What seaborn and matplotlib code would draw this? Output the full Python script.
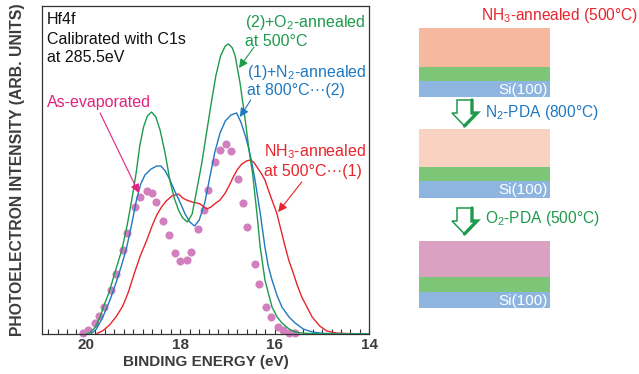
import matplotlib
matplotlib.use("Agg")
import matplotlib.pyplot as plt
from matplotlib.patches import Rectangle, Polygon
import numpy as np
import pandas as pd
import seaborn as sns

# Hf4f spectra: binding energy (eV) and photoelectron intensity (arb. units)
energy_o2 = [20.00, 19.92, 19.80, 19.70, 19.63, 19.50, 19.39, 19.24, 19.13, 19.03, 18.94,
             18.86, 18.78, 18.70, 18.61, 18.52, 18.43, 18.32, 18.22, 18.13, 18.04, 17.95,
             17.85, 17.75, 17.65, 17.55, 17.45, 17.35, 17.25, 17.15, 17.05, 16.98, 16.90,
             16.84, 16.74, 16.63, 16.55, 16.47, 16.38, 16.31, 16.21, 16.06, 15.95, 15.85,
             15.70, 15.57, 15.40, 15.20, 14.90, 14.50, 14.00]
intensity_o2 = [0, 1, 7, 17, 27, 43, 61, 84, 108, 134, 160,
                188, 207, 218, 222, 217, 204, 180, 153, 136, 124, 116,
                112, 120, 145, 170, 200, 230, 258, 278, 288, 290, 286,
                278, 252, 215, 185, 160, 121, 87, 54, 27, 17, 11,
                5, 2, 0.8, 0.3, 0.1, 0, 0]

energy_n2 = [19.88, 19.78, 19.65, 19.49, 19.35, 19.25, 19.14, 19.03, 18.93, 18.84, 18.75,
             18.62, 18.50, 18.41, 18.32, 18.22, 18.12, 18.01, 17.90, 17.80, 17.70, 17.60,
             17.48, 17.38, 17.27, 17.16, 17.05, 16.93, 16.81, 16.72, 16.63, 16.55, 16.49,
             16.42, 16.31, 16.21, 16.14, 16.06, 15.95, 15.85, 15.70, 15.57, 15.40, 15.21,
             15.00, 14.70, 14.00]
intensity_n2 = [0.5, 5, 16, 34, 53, 68, 86, 110, 134, 150, 159,
                165, 168, 168, 163, 154, 143, 132, 120, 112, 108, 114,
                132, 156, 182, 201, 213, 219, 221, 212, 199, 185, 172,
                154, 121, 87, 68, 54, 38, 27, 17, 11, 5, 2,
                0.7, 0.3, 0]

energy_nh3 = [19.77, 19.65, 19.50, 19.35, 19.22, 19.10, 18.98, 18.85, 18.71, 18.60, 18.50,
              18.40, 18.30, 18.18, 18.04, 17.95, 17.87, 17.75, 17.65, 17.58, 17.50, 17.44,
              17.35, 17.25, 17.16, 17.05, 16.95, 16.88, 16.80, 16.70, 16.60, 16.52, 16.45,
              16.35, 16.28, 16.21, 16.10, 15.96, 15.87, 15.78, 15.70, 15.61, 15.52, 15.43,
              15.32, 15.21, 15.05, 14.90, 14.70, 14.50, 14.00]
intensity_nh3 = [0.5, 3, 9, 18, 28, 42, 60, 78, 94, 108, 119,
                 127, 133, 138, 140, 136, 134, 132, 131, 130, 127, 125,
                 127, 131, 134, 141, 150, 157, 164, 170, 173, 174, 172,
                 165, 160, 154, 139, 121, 104, 87, 73, 61, 48, 37,
                 27, 17, 8, 3, 1, 0.5, 0]

energy_asdep = [20.06, 19.96, 19.81, 19.72, 19.61, 19.46, 19.36, 19.22, 19.12, 18.96, 18.86,
                18.71, 18.61, 18.52, 18.37, 18.25, 18.12, 18.01, 17.87, 17.77, 17.62, 17.51,
                17.42, 17.27, 17.17, 17.03, 16.93, 16.78, 16.68, 16.58, 16.43, 16.33, 16.18,
                16.08, 15.94, 15.83, 15.69, 15.58]
intensity_asdep = [0.7, 4, 10.7, 18, 27.3, 44, 60, 84, 101.3, 126.7, 136.7,
                   143, 140.7, 132.3, 113, 98.7, 81.3, 73.3, 74, 82.3, 105, 124,
                   144.3, 171.7, 184, 189.7, 182.7, 154.7, 131.3, 106.7, 69.7, 49.7, 27,
                   16.7, 6.7, 4, 1.3, 0.7]

major_ticks = [20, 18, 16, 14]

C_GREEN = "#1d9a4c"
C_BLUE = "#1f78c0"
C_RED = "#e8242c"
C_MAGENTA = "#e0237f"
C_DOTS = "#d27fc0"
C_AXIS_TEXT = "#3c3c3c"

sns.set_style("white")
plt.rcParams["font.family"] = ["Liberation Sans", "DejaVu Sans"]
plt.rcParams["mathtext.fontset"] = "custom"
plt.rcParams["mathtext.rm"] = "Liberation Sans"
plt.rcParams["mathtext.default"] = "regular"

W, H = 639, 374
fig = plt.figure(figsize=(W / 100, H / 100), dpi=100)
ax = fig.add_axes([42 / W, 1 - 334 / H, (369.3 - 42) / W, (334 - 6) / H])

curves = pd.concat([
    pd.DataFrame({"energy": energy_nh3, "intensity": intensity_nh3, "sample": "nh3"}),
    pd.DataFrame({"energy": energy_n2, "intensity": intensity_n2, "sample": "n2"}),
    pd.DataFrame({"energy": energy_o2, "intensity": intensity_o2, "sample": "o2"}),
])
sns.lineplot(data=curves, x="energy", y="intensity", hue="sample", sort=False,
             palette={"nh3": C_RED, "n2": C_BLUE, "o2": C_GREEN},
             linewidth=1.0, legend=False, ax=ax, zorder=3)
dots = pd.DataFrame({"energy": energy_asdep, "intensity": intensity_asdep})
sns.scatterplot(data=dots, x="energy", y="intensity", color=C_DOTS, s=34,
                linewidth=0, ax=ax, zorder=2, clip_on=False)

ax.set_xlim(20.93, 14.0)
ax.set_ylim(0, 328)
ax.set_xticks(major_ticks)
ax.set_xticklabels([str(t) for t in major_ticks], fontsize=11, fontweight="bold",
                   color=C_AXIS_TEXT)
ax.set_xticks(np.arange(14.2, 20.9, 0.2), minor=True)
ax.set_yticks([])
ax.tick_params(axis="x", which="both", direction="in", bottom=True, top=False,
               length=3.5, width=0.8, color="#333333", pad=3)
ax.set_xlabel("BINDING ENERGY (eV)", fontsize=11, fontweight="bold",
              color=C_AXIS_TEXT, labelpad=2)
ax.set_ylabel("PHOTOELECTRON INTENSITY (ARB. UNITS)", fontsize=11.3,
              fontweight="bold", color=C_AXIS_TEXT, labelpad=12)
for sp in ax.spines.values():
    sp.set_color("#333333")
    sp.set_linewidth(0.9)


def label(x, centers, lines, color, size=11.5):
    for yc, line in zip(centers, lines):
        fig.text(x / W, 1 - yc / H, line, fontsize=size, color=color,
                 ha="left", va="center")


label(47, [20, 39, 58], ["Hf4f", "Calibrated with C1s", "at 285.5eV"], "#111111")
label(245, [22, 41], ["(2)+O$_2$-annealed", "at 500°C"], C_GREEN)
label(247, [73, 91], ["(1)+N$_2$-annealed", "at 800°C···(2)"], C_BLUE)
label(47, [102], ["As-evaporated"], C_MAGENTA)
label(264, [152, 171], ["NH$_3$-annealed", "at 500°C···(1)"], C_RED)


def pointer(tip, tail, color):
    ax.annotate("", xy=tip, xytext=tail, xycoords="data", textcoords="data",
                arrowprops=dict(arrowstyle="-|>", color=color, lw=0.8,
                                mutation_scale=13, shrinkA=0, shrinkB=0),
                zorder=5)


pointer((16.76, 266), (16.44, 287), C_GREEN)
pointer((16.74, 217), (16.51, 234), C_BLUE)
pointer((18.88, 141), (19.70, 221), C_MAGENTA)
pointer((15.93, 122), (15.43, 152), C_RED)

# Layer stack schematic
sk = fig.add_axes([400 / W, 0, 239 / W, 1])
sk.set_xlim(400, 639)
sk.set_ylim(374, 0)
sk.axis("off")

C_LAYER_GREEN = "#7dc577"
C_LAYER_BLUE = "#8db5df"
stacks = [(28, 67, 81, 97, "#f7b8a0"),
          (129, 167, 181, 198, "#fad2c2"),
          (241, 277, 292, 308, "#dba1c3")]
for top, g, b, bot, col in stacks:
    sk.add_patch(Rectangle((419, top), 131, g - top, facecolor=col, edgecolor="none"))
    sk.add_patch(Rectangle((419, g), 131, b - g, facecolor=C_LAYER_GREEN, edgecolor="none"))
    sk.add_patch(Rectangle((419, b), 131, bot - b, facecolor=C_LAYER_BLUE, edgecolor="none"))
    sk.text(548, (b + bot) / 2 + 0.5, "Si(100)", color="white", fontsize=11,
            ha="right", va="center")


def block_arrow(y0):
    pts = [(457, y0), (472, y0), (472, y0 + 13), (477, y0 + 13),
           (464.5, y0 + 26), (452, y0 + 13), (457, y0 + 13)]
    sk.add_patch(Polygon(pts, closed=True, facecolor="white", edgecolor=C_GREEN,
                         linewidth=1.1, joinstyle="miter"))
    sk.plot([472, 472, 477, 464.5], [y0, y0 + 13, y0 + 13, y0 + 26],
            color=C_GREEN, linewidth=2.4, solid_joinstyle="miter")


block_arrow(100)
block_arrow(208)
sk.text(638, 15, "NH$_3$-annealed (500°C)", color=C_RED, fontsize=11.2,
        ha="right", va="center")
sk.text(485, 112, "N$_2$-PDA (800°C)", color=C_BLUE, fontsize=11.2,
        ha="left", va="center")
sk.text(485, 218, "O$_2$-PDA (500°C)", color=C_GREEN, fontsize=11.2,
        ha="left", va="center")

fig.savefig("out.png", dpi=100)
